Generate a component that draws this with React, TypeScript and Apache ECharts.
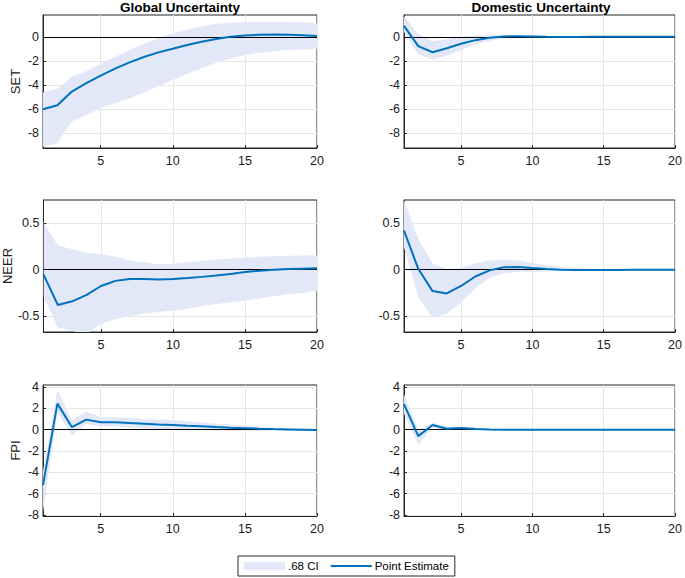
import React, { useEffect, useRef } from "react";
import * as echarts from "echarts";

const steps = [1, 2, 3, 4, 5, 6, 7, 8, 9, 10, 11, 12, 13, 14, 15, 16, 17, 18, 19, 20];

const columnTitles = ["Global Uncertainty", "Domestic Uncertainty"];
const rowNames = ["SET", "NEER", "FPI"];

// Global SET
const gSetPt = [-6.0, -5.67, -4.53, -3.83, -3.22, -2.64, -2.12, -1.67, -1.29, -0.99, -0.68, -0.42, -0.18, 0.0, 0.1, 0.16, 0.18, 0.17, 0.13, 0.06];
const gSetHi = [-4.6, -4.3, -3.3, -2.85, -2.25, -1.65, -1.1, -0.6, -0.1, 0.3, 0.6, 0.85, 1.05, 1.15, 1.2, 1.25, 1.25, 1.22, 1.2, 1.1];
const gSetLo = [-9.1, -8.8, -7.0, -6.5, -5.9, -5.5, -5.1, -4.6, -4.1, -3.55, -3.05, -2.6, -2.15, -1.8, -1.5, -1.33, -1.2, -1.1, -1.05, -1.0];
// Domestic SET
const dSetPt = [0.9, -0.78, -1.28, -0.95, -0.58, -0.28, -0.08, 0.03, 0.05, 0.03, 0.0, -0.01, -0.01, 0, 0, 0, 0, 0, 0, 0];
const dSetHi = [1.7, 0.2, -0.35, -0.2, 0.0, 0.1, 0.15, 0.15, 0.12, 0.1, 0.06, 0.04, 0.03, 0.02, 0.02, 0.01, 0.01, 0.01, 0.01, 0.01];
const dSetLo = [0.4, -1.45, -1.9, -1.55, -1.1, -0.65, -0.33, -0.14, -0.06, -0.04, -0.04, -0.04, -0.03, -0.03, -0.02, -0.02, -0.02, -0.01, -0.01, -0.01];
// Global NEER
const gNeerPt = [-0.05, -0.38, -0.34, -0.27, -0.175, -0.12, -0.1, -0.1, -0.105, -0.1, -0.09, -0.077, -0.062, -0.045, -0.025, -0.01, 0.0, 0.007, 0.011, 0.015];
const gNeerHi = [0.51, 0.26, 0.22, 0.18, 0.17, 0.14, 0.1, 0.08, 0.06, 0.065, 0.08, 0.095, 0.11, 0.12, 0.13, 0.14, 0.145, 0.15, 0.153, 0.153];
const gNeerLo = [-0.29, -0.62, -0.66, -0.69, -0.58, -0.53, -0.5, -0.47, -0.455, -0.44, -0.42, -0.39, -0.37, -0.35, -0.33, -0.31, -0.285, -0.26, -0.25, -0.23];
// Domestic NEER
const dNeerPt = [0.42, 0.01, -0.23, -0.255, -0.175, -0.073, -0.007, 0.026, 0.03, 0.018, 0.007, 0, -0.004, -0.004, -0.003, -0.002, -0.001, 0, 0, 0];
const dNeerHi = [0.75, 0.33, 0.07, 0.007, 0.02, 0.07, 0.1, 0.11, 0.1, 0.073, 0.05, 0.03, 0.018, 0.01, 0.008, 0.006, 0.005, 0.004, 0.004, 0.004];
const dNeerLo = [0.24, -0.29, -0.52, -0.47, -0.35, -0.2, -0.09, -0.035, -0.025, -0.022, -0.018, -0.012, -0.01, -0.008, -0.007, -0.006, -0.005, -0.005, -0.005, -0.005];
// Global FPI
const gFpiPt = [-5.2, 2.45, 0.25, 0.95, 0.7, 0.7, 0.63, 0.57, 0.5, 0.45, 0.38, 0.32, 0.25, 0.19, 0.15, 0.1, 0.06, 0.03, 0, -0.03];
const gFpiHi = [-3.9, 3.75, 0.9, 1.7, 1.2, 1.17, 1.1, 1.0, 0.95, 0.9, 0.8, 0.7, 0.57, 0.48, 0.38, 0.28, 0.19, 0.13, 0.1, 0.06];
const gFpiLo = [-7.7, 1.7, -0.55, 0.57, 0.32, 0.32, 0.19, 0.13, 0.06, 0.03, 0, -0.05, -0.07, -0.09, -0.1, -0.11, -0.12, -0.12, -0.13, -0.13];
// Domestic FPI
const dFpiPt = [2.4, -0.6, 0.45, 0.1, 0.16, 0.06, 0.03, 0.01, 0, 0, 0, 0, 0, 0, 0, 0, 0, 0, 0, 0];
const dFpiHi = [3.3, -0.05, 0.65, 0.3, 0.3, 0.2, 0.1, 0.05, 0.03, 0.02, 0.01, 0.01, 0.01, 0.01, 0.01, 0.01, 0.01, 0.01, 0.01, 0.01];
const dFpiLo = [1.5, -1.4, 0.2, -0.05, 0.0, -0.05, -0.03, -0.02, -0.01, -0.01, -0.01, -0.01, -0.01, -0.01, -0.01, -0.01, -0.01, -0.01, -0.01, -0.01];

const xTicks = [5, 10, 15, 20];
const yTicksSet = [-8, -6, -4, -2, 0];
const yTicksNeer = [-0.5, 0, 0.5];
const yTicksFpi = [-8, -6, -4, -2, 0, 2, 4];

const panels = [
  { pt: gSetPt, hi: gSetHi, lo: gSetLo },
  { pt: dSetPt, hi: dSetHi, lo: dSetLo },
  { pt: gNeerPt, hi: gNeerHi, lo: gNeerLo },
  { pt: dNeerPt, hi: dNeerHi, lo: dNeerLo },
  { pt: gFpiPt, hi: gFpiHi, lo: gFpiLo },
  { pt: dFpiPt, hi: dFpiHi, lo: dFpiLo },
];

const FONT = "Liberation Sans";
const BAND = "#E3E8F8";
const BLUE = "#0072BD";
const DARK = "#262626";

export default function App() {
  const ref = useRef<HTMLDivElement>(null);
  useEffect(() => {
    const chart = echarts.init(ref.current!, null, { renderer: "svg" });
    const rowLayout = [
      { top: 15, height: 133, min: -9.2, max: 1.8, ticks: yTicksSet },
      { top: 200, height: 132, min: -0.67, max: 0.75, ticks: yTicksNeer },
      { top: 385, height: 131, min: -8.1, max: 4.2, ticks: yTicksFpi },
    ];
    const colLayout = [
      { left: 43, width: 274 },
      { left: 404, width: 275 },
    ];
    const grids: any[] = [];
    const xAxes: any[] = [];
    const yAxes: any[] = [];
    const series: any[] = [];
    panels.forEach((p, i) => {
      const r = Math.floor(i / 2);
      const c = i % 2;
      const rl = rowLayout[r];
      const cl = colLayout[c];
      grids.push({
        left: cl.left,
        top: rl.top,
        width: cl.width,
        height: rl.height,
        show: true,
        borderColor: DARK,
        borderWidth: 1,
        backgroundColor: "transparent",
      });
      xAxes.push({
        type: "value",
        gridIndex: i,
        min: 1,
        max: 20,
        axisLine: { show: true, onZero: false, lineStyle: { color: DARK, width: 1 } },
        axisTick: { show: true, inside: true, length: 3, customValues: xTicks, lineStyle: { color: DARK } },
        axisLabel: { customValues: xTicks, color: "#1a1a1a", fontFamily: FONT, fontSize: 12.5, margin: 6 },
        splitLine: { show: true, lineStyle: { color: "#E6E6E6", width: 1 } },
      });
      yAxes.push({
        type: "value",
        gridIndex: i,
        min: rl.min,
        max: rl.max,
        name: c === 0 ? rowNames[r] : "",
        nameLocation: "middle",
        nameGap: 21,
        nameRotate: 90,
        nameTextStyle: { fontFamily: FONT, fontSize: 13, color: "#1a1a1a" },
        axisLine: { show: true, onZero: false, lineStyle: { color: DARK, width: 1 } },
        axisTick: { show: true, inside: true, length: 3, customValues: rl.ticks, lineStyle: { color: DARK } },
        axisLabel: { customValues: rl.ticks, color: "#1a1a1a", fontFamily: FONT, fontSize: 12.5, margin: 4 },
        splitLine: { show: true, lineStyle: { color: "#E6E6E6", width: 1 } },
      });
      const lo = p.lo;
      const hi = p.hi;
      series.push({
        type: "custom",
        name: ".68 CI",
        xAxisIndex: i,
        yAxisIndex: i,
        silent: true,
        clip: true,
        z: 1,
        itemStyle: { color: BAND },
        encode: { x: 0, y: [1, 2] },
        data: steps.map((s, k) => [s, lo[k], hi[k]]),
        renderItem: (params: any, api: any) => {
          if (params.dataIndex !== 0) return null;
          const upper = steps.map((s, k) => api.coord([s, hi[k]]));
          const lower = steps.map((s, k) => api.coord([s, lo[k]])).reverse();
          const cs = params.coordSys;
          return {
            type: "polygon",
            shape: { points: upper.concat(lower) },
            style: { fill: BAND, stroke: null },
            clipPath: { type: "rect", shape: { x: cs.x, y: cs.y, width: cs.width, height: cs.height } },
          };
        },
      });
      series.push({
        type: "line",
        name: "Point Estimate",
        xAxisIndex: i,
        yAxisIndex: i,
        symbol: "none",
        showSymbol: false,
        itemStyle: { color: BLUE },
        lineStyle: { color: BLUE, width: 2 },
        data: steps.map((s, k) => [s, p.pt[k]]),
        z: 3,
        markLine: {
          silent: true,
          symbol: "none",
          label: { show: false },
          lineStyle: { color: "#000", width: 1, type: "solid" },
          data: [{ yAxis: 0 }],
          z: 2,
        },
      });
    });
    const titleStyle = { fontFamily: FONT, fontSize: 13.5, fontWeight: "bold", color: "#000" };
    chart.setOption({
      animation: false,
      title: [
        { text: columnTitles[0], left: 180, top: 0, padding: 0, textAlign: "center", textStyle: titleStyle },
        { text: columnTitles[1], left: 541, top: 0, padding: 0, textAlign: "center", textStyle: titleStyle },
      ],
      legend: {
        left: 238,
        top: 556,
        orient: "horizontal",
        padding: [4, 6],
        itemGap: 12,
        itemWidth: 41,
        itemHeight: 8,
        borderColor: DARK,
        borderWidth: 1,
        textStyle: { fontFamily: FONT, fontSize: 11.5, color: "#000", padding: [0, 0, 0, -2] },
        data: [
          { name: ".68 CI", icon: "rect", itemStyle: { color: BAND } },
          { name: "Point Estimate", icon: "path://M0,0 L41,0 L41,2 L0,2 Z", itemStyle: { color: BLUE } },
        ],
      },
      grid: grids,
      xAxis: xAxes,
      yAxis: yAxes,
      series,
    });
    return () => chart.dispose();
  }, []);
  return <div ref={ref} style={{ position: "fixed", left: 0, top: 0, width: 685, height: 578, background: "#fff" }} />;
}
